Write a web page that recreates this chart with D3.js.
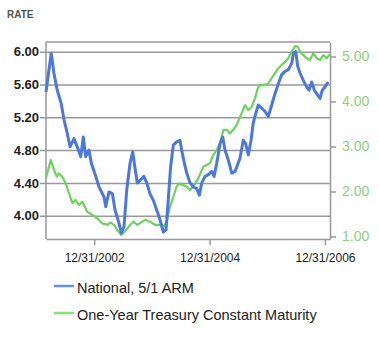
<!DOCTYPE html>
<html><head><meta charset="utf-8">
<script src="https://cdn.jsdelivr.net/npm/d3@7"></script>
<style>
html,body{margin:0;padding:0;background:#fff;}
svg{display:block;font-family:"Liberation Sans",Arial,sans-serif;}
</style></head>
<body>
<svg id="c" width="379" height="345"></svg>
<script>
// National, 5/1 ARM (left axis)
const armDates = ["2002-03-01","2002-04-03","2002-04-20","2002-05-11","2002-06-05","2002-06-23","2002-07-14","2002-07-31","2002-08-25","2002-09-15","2002-10-07","2002-10-23","2002-11-07","2002-11-28","2002-12-13","2003-01-10","2003-01-31","2003-03-03","2003-03-14","2003-04-04","2003-04-25","2003-05-12","2003-06-06","2003-06-21","2003-07-08","2003-07-25","2003-08-15","2003-09-01","2003-09-14","2003-09-30","2003-10-22","2003-11-11","2003-11-29","2003-12-19","2004-01-09","2004-01-31","2004-02-21","2004-03-13","2004-03-30","2004-04-13","2004-04-28","2004-05-15","2004-06-05","2004-06-26","2004-07-07","2004-07-24","2004-08-08","2004-08-29","2004-09-19","2004-10-10","2004-10-27","2004-11-11","2004-12-02","2004-12-23","2005-01-13","2005-01-28","2005-02-14","2005-03-07","2005-03-24","2005-04-07","2005-04-28","2005-05-20","2005-06-10","2005-07-11","2005-08-01","2005-08-16","2005-09-02","2005-09-19","2005-10-03","2005-10-19","2005-11-04","2005-11-26","2005-12-17","2006-01-06","2006-01-28","2006-02-18","2006-03-11","2006-04-01","2006-04-22","2006-05-13","2006-06-04","2006-06-14","2006-06-29","2006-07-12","2006-07-26","2006-08-16","2006-09-06","2006-09-21","2006-10-08","2006-10-25","2006-11-15","2006-11-30","2006-12-14","2006-12-31","2007-01-21"];
const armValues = [5.51,5.98,5.74,5.53,5.37,5.17,5.00,4.84,4.94,4.84,4.72,4.96,4.72,4.80,4.64,4.48,4.35,4.23,4.11,4.29,4.27,4.07,3.91,3.79,3.87,4.31,4.64,4.78,4.60,4.40,4.44,4.48,4.40,4.27,4.19,4.07,3.95,3.80,3.83,4.19,4.60,4.86,4.90,4.92,4.80,4.64,4.52,4.40,4.35,4.33,4.25,4.40,4.48,4.50,4.54,4.48,4.64,4.88,4.96,4.80,4.68,4.52,4.54,4.70,4.92,4.88,4.74,4.92,5.13,5.25,5.35,5.31,5.27,5.21,5.35,5.49,5.61,5.72,5.76,5.78,5.86,5.98,6.00,5.82,5.74,5.65,5.57,5.53,5.63,5.53,5.47,5.43,5.53,5.57,5.63];

// One-Year Treasury Constant Maturity (right axis)
const cmtDates = ["2002-03-01","2002-03-31","2002-04-21","2002-05-08","2002-05-22","2002-06-12","2002-07-04","2002-07-25","2002-08-15","2002-09-05","2002-09-26","2002-10-17","2002-11-17","2002-12-19","2003-01-20","2003-02-20","2003-03-24","2003-04-15","2003-05-05","2003-05-26","2003-06-21","2003-07-19","2003-08-08","2003-09-05","2003-09-30","2003-11-01","2003-11-18","2003-12-19","2004-01-20","2004-02-21","2004-03-17","2004-04-03","2004-04-24","2004-05-15","2004-06-05","2004-06-22","2004-07-17","2004-08-08","2004-08-29","2004-09-19","2004-10-20","2004-11-21","2004-12-12","2005-01-02","2005-01-23","2005-02-14","2005-03-07","2005-03-28","2005-04-18","2005-05-09","2005-05-30","2005-06-20","2005-07-22","2005-08-12","2005-09-02","2005-09-23","2005-10-14","2005-11-04","2005-11-26","2005-12-17","2006-01-06","2006-01-28","2006-02-18","2006-03-11","2006-04-01","2006-04-22","2006-05-13","2006-06-04","2006-06-25","2006-07-12","2006-07-26","2006-08-16","2006-09-06","2006-09-27","2006-10-18","2006-11-09","2006-11-30","2006-12-21","2007-01-11","2007-02-01"];
const cmtValues = [2.30,2.70,2.48,2.33,2.40,2.33,2.18,1.96,1.74,1.81,1.70,1.77,1.55,1.48,1.40,1.29,1.26,1.31,1.26,1.14,1.03,1.14,1.22,1.33,1.26,1.33,1.37,1.33,1.26,1.26,1.22,1.33,1.66,1.88,2.11,2.18,2.14,2.11,2.03,2.11,2.29,2.55,2.59,2.63,2.81,2.92,3.07,3.37,3.37,3.29,3.37,3.48,3.74,3.92,3.81,3.88,4.07,4.33,4.37,4.37,4.40,4.52,4.63,4.74,4.81,4.88,4.96,5.11,5.23,5.22,5.11,5.03,4.96,4.92,5.07,4.96,4.92,5.03,4.96,5.05];

const leftTicks = [4.00, 4.40, 4.80, 5.20, 5.60, 6.00];
const rightTicks = [1.00, 2.00, 3.00, 4.00, 5.00];
const xTickDates = ["2002-12-31","2004-12-31","2006-12-31"];
const seriesNames = ["National, 5/1 ARM", "One-Year Treasury Constant Maturity"];
const axisTitle = "RATE";

const parse = d3.timeParse("%Y-%m-%d");
const arm = armDates.map((d,i)=>({date:parse(d), v:armValues[i]}));
const cmt = cmtDates.map((d,i)=>({date:parse(d), v:cmtValues[i]}));

const L = 46, R = 330, T = 42, B = 239;
const blue = "#4c78dd", green = "#6fd25e";
const svg = d3.select("#c");

const x = d3.scaleTime().domain([parse("2002-03-01"), parse("2007-02-01")]).range([L, R]);
const yL = d3.scaleLinear().domain([3.716, 6.118]).range([B, T]);
const yR = d3.scaleLinear().domain([0.944, 5.322]).range([B, T]);

// title
svg.append("text").attr("x", 7).attr("y", 18).attr("font-size", 10).attr("font-weight", "bold")
  .attr("fill", "#555").text(axisTitle);

// gridlines + left axis labels
const gl = svg.append("g").attr("transform", `translate(${L},0)`)
  .call(d3.axisLeft(yL).tickValues(leftTicks).tickFormat(d3.format(".2f"))
    .tickSize(-(R - L)).tickSizeOuter(0).tickPadding(6));
gl.select(".domain").remove();
gl.selectAll(".tick line").attr("stroke", "#999").attr("stroke-width", 1.5).attr("x1", -6);
gl.selectAll(".tick text").attr("font-size", 13).attr("font-weight", "bold").attr("fill", "#222")
  .attr("font-family", "Liberation Sans, Arial, sans-serif").attr("x", -7);

// frame
const frame = svg.append("g").attr("stroke", "#999").attr("stroke-width", 1.5).attr("fill", "none");
frame.append("line").attr("x1", L).attr("x2", L).attr("y1", T).attr("y2", B);
frame.append("line").attr("x1", L).attr("x2", R).attr("y1", T).attr("y2", T);

// bottom axis
const gx = svg.append("g").attr("transform", `translate(0,${B})`)
  .call(d3.axisBottom(x).tickValues(xTickDates.map(parse)).tickFormat(d3.timeFormat("%m/%d/%Y"))
    .tickSize(6).tickSizeOuter(0).tickPadding(8));
gx.select(".domain").attr("stroke", "#999").attr("stroke-width", 1.5);
gx.selectAll(".tick line").attr("stroke", "#999").attr("stroke-width", 1.5);
gx.selectAll(".tick text").attr("font-size", 12).attr("fill", "#222")
  .attr("font-family", "Liberation Sans, Arial, sans-serif");

// right axis
const gr = svg.append("g").attr("transform", `translate(${R},0)`)
  .call(d3.axisRight(yR).tickValues(rightTicks).tickFormat(d3.format(".2f"))
    .tickSize(6).tickSizeOuter(0).tickPadding(6));
gr.select(".domain").attr("stroke", "#999").attr("stroke-width", 1.5);
gr.selectAll(".tick line").attr("stroke", "#999").attr("stroke-width", 1.5);
gr.selectAll(".tick text").attr("font-size", 14).attr("fill", "#8dcf7f")
  .attr("font-family", "Liberation Sans, Arial, sans-serif");

// lines
const lineL = d3.line().x(d=>x(d.date)).y(d=>yL(d.v));
const lineR = d3.line().x(d=>x(d.date)).y(d=>yR(d.v));
svg.append("path").datum(cmt).attr("d", lineR).attr("fill", "none")
  .attr("stroke", green).attr("stroke-width", 2.2).attr("stroke-linejoin", "round");
svg.append("path").datum(arm).attr("d", lineL).attr("fill", "none")
  .attr("stroke", blue).attr("stroke-width", 3).attr("stroke-linejoin", "round");

// legend
const legColors = ["#6a90dc", "#8edc86"];
const leg = svg.append("g");
seriesNames.forEach((name, i) => {
  const yy = 286 + i * 27;
  leg.append("line").attr("x1", 54).attr("x2", 74).attr("y1", yy).attr("y2", yy)
    .attr("stroke", legColors[i]).attr("stroke-width", 2.5);
  leg.append("text").attr("x", 77).attr("y", yy + 6.5).attr("font-size", 14.5)
    .attr("fill", "#222").text(name);
});
</script>
</body></html>
